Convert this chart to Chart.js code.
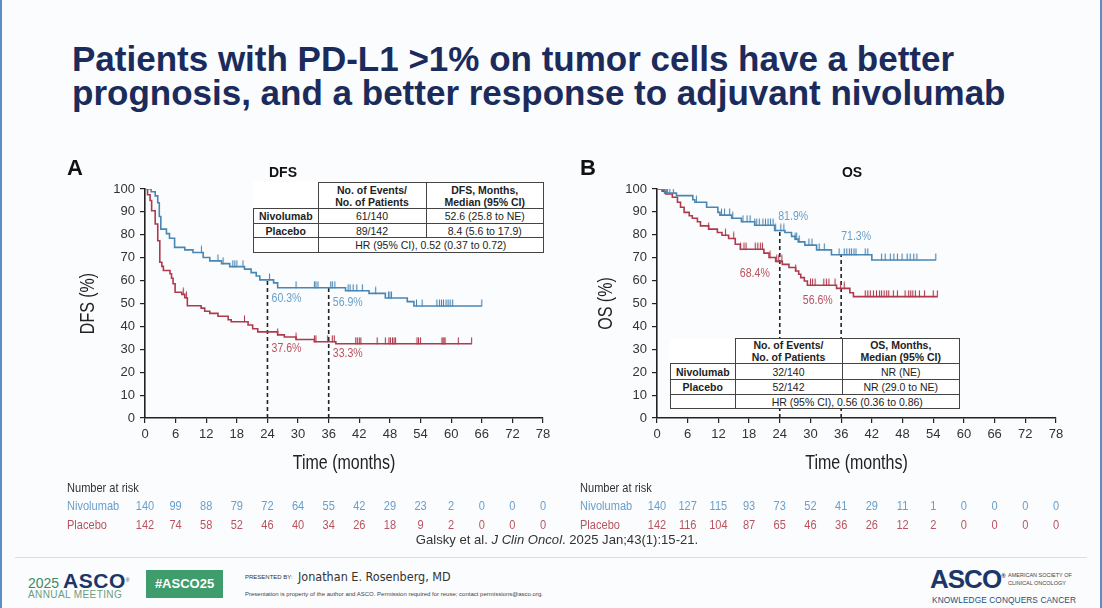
<!DOCTYPE html>
<html>
<head>
<meta charset="utf-8">
<script src="https://cdn.jsdelivr.net/npm/chart.js@4.4.1/dist/chart.umd.min.js"></script>
<style>
body { margin:0; width:1102px; height:608px; background:#fbfcfd; position:relative; overflow:hidden; font-family:"Liberation Sans", Arial, sans-serif; }
.edge { position:absolute; top:0; width:2px; height:608px; background:#5a8fc0; }
#title { position:absolute; left:72px; top:42px; font-weight:bold; font-size:35px; line-height:34px; color:#1a2b5c; white-space:nowrap; }
canvas { position:absolute; }
.km-table { position:absolute; border-collapse:collapse; background:#fff; font-size:10.5px; color:#222; }
.km-table td { border:1px solid #444; text-align:center; padding:0; line-height:12px; }
.km-table td.blank { border:none; background:transparent; }
.km-table td.hd { font-weight:bold; line-height:12px; }
.km-table td.rl { font-weight:bold; }
#cite { position:absolute; left:0; width:1114px; top:532px; text-align:center; font-size:13.5px; color:#333; transform:scaleX(0.97); transform-origin:557px 0; }
#footline { position:absolute; left:15px; width:1072px; top:557px; height:1px; background:#d9dee3; }
.ft { position:absolute; white-space:nowrap; }
</style>
</head>
<body>
<div class="edge" style="left:0"></div>
<div class="edge" style="left:1100px"></div>
<div id="title">Patients with PD-L1 &gt;1% on tumor cells have a better<br>prognosis, and a better response to adjuvant nivolumab</div>

<canvas id="dfs-chart" width="525" height="390" style="left:40px; top:150px;"></canvas>
<canvas id="os-chart" width="525" height="390" style="left:560px; top:150px;"></canvas>

<table class="km-table" style="left:253px; top:182px; width:291px;">
  <tr style="height:26px"><td class="blank" style="width:64px"></td><td class="hd" style="width:107px">No. of Events/<br>No. of Patients</td><td class="hd">DFS, Months,<br>Median (95% CI)</td></tr>
  <tr style="height:15px"><td class="rl">Nivolumab</td><td>61/140</td><td>52.6 (25.8 to NE)</td></tr>
  <tr style="height:14px"><td class="rl">Placebo</td><td>89/142</td><td>8.4 (5.6 to 17.9)</td></tr>
  <tr style="height:15px"><td></td><td colspan="2">HR (95% CI), 0.52 (0.37 to 0.72)</td></tr>
</table>

<table class="km-table" style="left:670px; top:338px; width:290px;">
  <tr style="height:25px"><td class="blank" style="width:64px"></td><td class="hd" style="width:106px">No. of Events/<br>No. of Patients</td><td class="hd">OS, Months,<br>Median (95% CI)</td></tr>
  <tr style="height:16px"><td class="rl">Nivolumab</td><td>32/140</td><td>NR (NE)</td></tr>
  <tr style="height:15px"><td class="rl">Placebo</td><td>52/142</td><td>NR (29.0 to NE)</td></tr>
  <tr style="height:14px"><td></td><td colspan="2">HR (95% CI), 0.56 (0.36 to 0.86)</td></tr>
</table>

<div id="cite">Galsky et al. <i>J Clin Oncol</i>. 2025 Jan;43(1):15-21.</div>
<div id="footline"></div>

<div class="ft" style="left:28px; top:569px; color:#3d8c63; font-size:14px;">2025 <span style="color:#1d3668; font-weight:bold; font-size:21px; letter-spacing:0.5px;">ASCO</span><sup style="font-size:5px; color:#1d3668;">®</sup></div>
<div class="ft" style="left:28px; top:589px; color:#6a9e80; font-size:10px; letter-spacing:0.4px;">ANNUAL MEETING</div>
<div class="ft" style="left:146px; top:570px; width:77px; height:28px; background:#3f9c6d; color:#fff; font-weight:bold; font-size:13px; line-height:28px; text-align:center;">#ASCO25</div>
<div class="ft" style="left:245px; top:574px; font-size:6px; color:#333;">PRESENTED BY:</div>
<div class="ft" style="left:298px; top:569px; font-size:12.5px; color:#333; font-family:'DejaVu Sans Condensed','Liberation Sans',sans-serif;">Jonathan E. Rosenberg, MD</div>
<div class="ft" style="left:245px; top:591px; font-size:6px; color:#444;">Presentation is property of the author and ASCO. Permission required for reuse; contact permissions@asco.org.</div>
<div class="ft" style="left:930px; top:564px; font-size:26px; font-weight:bold; color:#1d3668; letter-spacing:-1px;">ASCO<sup style="font-size:6px;">®</sup></div>
<div class="ft" style="left:1008px; top:571px; font-size:5.5px; line-height:8px; color:#444;">AMERICAN SOCIETY OF<br>CLINICAL ONCOLOGY</div>
<div class="ft" style="left:932px; top:595px; font-size:8.3px; color:#1d4f7a; letter-spacing:0.1px;">KNOWLEDGE CONQUERS CANCER</div>

<script>
// x axis months and number at risk
const riskTimes = [0, 6, 12, 18, 24, 30, 36, 42, 48, 54, 60, 66, 72, 78];
const dfsNivoRisk = [140, 99, 88, 79, 72, 64, 55, 42, 29, 23, 2, 0, 0, 0];
const dfsPlacRisk = [142, 74, 58, 52, 46, 40, 34, 26, 18, 9, 2, 0, 0, 0];
const osNivoRisk = [140, 127, 115, 93, 73, 52, 41, 29, 11, 1, 0, 0, 0, 0];
const osPlacRisk = [142, 116, 104, 87, 65, 46, 36, 26, 12, 2, 0, 0, 0, 0];

// landmark times and rates (%)
const landmarkTimes = [24, 36];
const dfsNivoLandmark = [60.3, 56.9];
const dfsPlacLandmark = [37.6, 33.3];
const osNivoLandmark = [81.9, 71.3];
const osPlacLandmark = [68.4, 56.6];

// DFS curves (time in months, survival %)
const dfsNivoT = [0, 1.2, 2.0, 2.5, 2.8, 3.1, 4.2, 4.8, 5.8, 7.8, 9.4, 11.4, 12.7, 15, 16.6, 19.5, 20.8, 21.8, 22.5, 25.2, 26, 39.3, 43.9, 47.1, 51.4, 52.7, 66];
const dfsNivoS = [100, 98.8, 97, 94, 88, 82.5, 80.5, 78.5, 74.5, 73.4, 72.3, 70.1, 68.6, 67.4, 66.1, 65, 63.5, 62, 60.3, 59, 56.9, 55.6, 54.4, 52.4, 50.8, 48.9, 48.9];
const dfsNivoCens = [11.05, 14.3, 15.3, 17.2, 17.6, 18.0, 19.2, 24.4, 29.6, 33.2, 33.5, 33.9, 36.4, 36.7, 37.2, 39.8, 40.2, 40.8, 41.5, 42.6, 45.2, 47.7, 48.0, 48.3, 53.2, 54.3, 57.2, 57.7, 58.1, 58.5, 59.0, 59.4, 59.8, 60.3, 66];

const dfsPlacT = [0, 0.5, 1.0, 1.3, 2.0, 2.5, 2.9, 3.3, 3.6, 4.9, 5.2, 5.5, 5.9, 7.2, 7.8, 8.3, 11, 11.7, 12.7, 14.3, 16.3, 16.9, 20.2, 21.1, 22.1, 26, 27.3, 29.6, 33.2, 37.4, 64];
const dfsPlacS = [100, 97.5, 95, 90.5, 84.7, 77.4, 68, 66.2, 64.4, 63, 61, 58.6, 54.9, 54, 52.5, 49, 48, 46.6, 45.7, 44.4, 42.9, 42, 40.6, 39, 37.6, 36.3, 35.4, 34.3, 33.3, 32.4, 32.4];
const dfsPlacCens = [7.5, 8.1, 19.5, 26.0, 29.6, 33.2, 33.5, 35.8, 36.7, 37.1, 41.3, 41.6, 42.0, 42.3, 45.5, 47.1, 47.8, 48.1, 48.5, 48.8, 49.1, 53.3, 53.6, 54.0, 58.2, 58.4, 58.6, 58.8, 61.4, 64.0];

// OS curves
const osNivoT = [0, 1.5, 3.8, 7.0, 7.4, 9.7, 11.9, 12.3, 14.6, 16.5, 19.1, 23.0, 25.0, 26.3, 27.0, 27.6, 28.9, 31.2, 34.1, 42.0, 54.5];
const osNivoS = [100, 98.2, 97.1, 95.3, 94.2, 92.0, 89.8, 88.6, 87.2, 85.7, 84.2, 81.9, 81.0, 79.3, 78.1, 76.9, 75.5, 73.4, 71.3, 69.0, 69.0];
const osNivoCens = [0.6, 1.2, 1.8, 2.5, 3.2, 7.7, 12.6, 13.2, 14.2, 14.8, 16.8, 17.6, 18.2, 19.1, 19.5, 20.0, 20.7, 21.2, 21.7, 22.2, 22.7, 23.2, 24.2, 24.8, 27.0, 27.3, 27.8, 29.7, 30.3, 31.7, 32.7, 35.6, 36.6, 37.1, 37.6, 38.0, 38.5, 38.9, 40.7, 41.2, 43.9, 44.6, 45.6, 46.3, 47.0, 47.9, 48.9, 49.5, 50.2, 50.8, 54.5];

const osPlacT = [0, 1.0, 1.7, 3.0, 4.0, 4.6, 5.3, 6.3, 6.9, 7.9, 8.5, 10.1, 11.8, 12.7, 14.0, 15.3, 16.3, 20.9, 21.9, 23.2, 24.5, 25.8, 27.1, 27.7, 28.1, 28.8, 29.4, 35.1, 37.7, 38.4, 54.8];
const osPlacS = [100, 99, 97.8, 96.4, 94.2, 92, 89.8, 88.3, 87.2, 85.7, 83.9, 82.5, 81.0, 79.8, 78.4, 75.9, 73.7, 72.0, 70.1, 68.4, 67.1, 65.7, 64.2, 62.8, 61.3, 59.8, 58.0, 56.6, 54.7, 53.0, 53.0];
const osPlacCens = [0.6, 1.3, 2.0, 10.1, 13.4, 15.0, 16.3, 17.0, 17.4, 19.2, 19.7, 20.2, 20.6, 22.1, 23.4, 23.8, 24.4, 27.1, 30.0, 30.4, 30.9, 32.6, 33.1, 33.6, 34.8, 35.9, 36.6, 40.7, 41.2, 41.7, 42.3, 42.9, 43.5, 43.9, 44.4, 44.9, 45.3, 46.2, 47.0, 48.5, 49.2, 49.6, 50.0, 50.5, 51.3, 52.3, 54.0, 54.8];

const BLUE = '#4a86b4';
const RED = '#ae3a4c';
const BLUE_TXT = '#6a9fca';
const RED_TXT = '#b9535f';
const ARIAL = '"Liberation Sans", Arial, sans-serif';

function toPoints(ts, ss) {
    return ts.map((t, i) => ({ x: t, y: ss[i] }));
}
// value of the step curve at time t
function stepValue(ts, ss, t) {
    let v = ss[0];
    for (let i = 0; i < ts.length; i++) if (ts[i] <= t) v = ss[i];
    return v;
}
function censorPoints(cens, ts, ss) {
    return cens.map(t => ({ x: t, y: stepValue(ts, ss, t) }));
}
function tickImage(color) {
    let c = document.createElement('canvas');
    c.width = 3; c.height = 14;
    let g = c.getContext('2d');
    g.strokeStyle = color;
    g.lineWidth = 1.1;
    g.beginPath(); g.moveTo(1.5, 0.5); g.lineTo(1.5, 7.5); g.stroke();
    return c;
}
// condensed-looking text: squeeze horizontally
function narrowText(ctx, text, x, y, sx, rot) {
    ctx.save();
    ctx.translate(x, y);
    if (rot) ctx.rotate(rot);
    ctx.scale(sx, 1);
    ctx.fillText(text, 0, 0);
    ctx.restore();
}

const kmExtras = {
    id: 'kmExtras',
    afterDraw(chart, args, o) {
        const ctx = chart.ctx, xs = chart.scales.x, ys = chart.scales.y, area = chart.chartArea;
        ctx.save();
        ctx.fillStyle = '#111';
        ctx.font = 'bold 22px ' + ARIAL;
        ctx.textAlign = 'left'; ctx.textBaseline = 'alphabetic';
        ctx.fillText(o.letter, o.letterX, 25);
        ctx.font = 'bold 14px ' + ARIAL;
        ctx.textAlign = 'center';
        ctx.fillText(o.title, o.titleX, 27);
        // axis titles
        ctx.fillStyle = '#222';
        ctx.font = '20px ' + ARIAL;
        ctx.textBaseline = 'middle';
        narrowText(ctx, 'Time (months)', (area.left + area.right) / 2, 313, 0.8);
        narrowText(ctx, o.yTitle, o.yTitleX, (area.top + area.bottom) / 2, 0.8, -Math.PI / 2);
        // landmark labels
        ctx.font = '12px ' + ARIAL;
        ctx.textAlign = 'left';
        o.labels.forEach(l => {
            ctx.fillStyle = l.color;
            narrowText(ctx, l.text, xs.getPixelForValue(l.x), ys.getPixelForValue(l.y), 0.88);
        });
        // number at risk
        ctx.font = '13px ' + ARIAL;
        ctx.fillStyle = '#333';
        narrowText(ctx, 'Number at risk', o.riskX, 338, 0.85);
        ctx.fillStyle = BLUE_TXT;
        narrowText(ctx, 'Nivolumab', o.riskX, 356, 0.85);
        ctx.fillStyle = RED_TXT;
        narrowText(ctx, 'Placebo', o.riskX, 375, 0.85);
        ctx.textAlign = 'center';
        riskTimes.forEach((t, i) => {
            const px = xs.getPixelForValue(t);
            ctx.fillStyle = BLUE_TXT;
            narrowText(ctx, String(o.nivoRisk[i]), px, 356, 0.85);
            ctx.fillStyle = RED_TXT;
            narrowText(ctx, String(o.placRisk[i]), px, 375, 0.85);
        });
        ctx.restore();
    }
};

function make_panel(id, p) {
    const dash = landmarkTimes.map((t, i) => ({
        type: 'line',
        data: [{ x: t, y: 0 }, { x: t, y: p.nivoLm[i] }],
        borderColor: '#222', borderWidth: 1.6, borderDash: [4, 3],
        pointRadius: 0, order: 5,
    }));
    const labels = [];
    landmarkTimes.forEach((t, i) => {
        labels.push({ text: p.nivoLm[i].toFixed(1) + '%', x: p.nivoPos[i][0], y: p.nivoPos[i][1], color: BLUE_TXT });
        labels.push({ text: p.placLm[i].toFixed(1) + '%', x: p.placPos[i][0], y: p.placPos[i][1], color: RED_TXT });
    });
    new Chart(document.getElementById(id), {
        type: 'line',
        data: {
            datasets: [
                ...dash,
                { data: toPoints(p.placT, p.placS), stepped: true, borderColor: RED, borderWidth: 1.6, pointRadius: 0, order: 2 },
                { data: toPoints(p.nivoT, p.nivoS), stepped: true, borderColor: BLUE, borderWidth: 1.6, pointRadius: 0, order: 1 },
                { data: censorPoints(p.placC, p.placT, p.placS), showLine: false, pointStyle: tickImage(RED), pointRadius: 4, order: 2 },
                { data: censorPoints(p.nivoC, p.nivoT, p.nivoS), showLine: false, pointStyle: tickImage(BLUE), pointRadius: 4, order: 1 },
            ],
        },
        options: {
            responsive: false,
            animation: false,
            layout: { padding: { left: p.padLeft, top: 39, right: p.padRight, bottom: 63 } },
            scales: {
                x: {
                    type: 'linear', min: 0, max: 78,
                    ticks: { stepSize: 6, autoSkip: false, maxRotation: 0, padding: 4, color: '#333', font: { size: 13, family: ARIAL } },
                    grid: { drawOnChartArea: false, color: '#222', tickLength: 5, lineWidth: 1.2 },
                    border: { color: '#222', width: 1.6 },
                    afterFit: s => { s.height = 59; },
                },
                y: {
                    min: 0, max: 100,
                    ticks: { stepSize: 10, padding: 5, color: '#333', font: { size: 13, family: ARIAL } },
                    grid: { drawOnChartArea: false, color: '#222', tickLength: 5, lineWidth: 1.2 },
                    border: { color: '#222', width: 1.6 },
                    afterFit: s => { s.width = p.yWidth; },
                },
            },
            plugins: {
                legend: { display: false },
                tooltip: { enabled: false },
                kmExtras: {
                    letter: p.letter, letterX: p.letterX, title: p.title, titleX: p.titleX,
                    yTitle: p.yTitle, yTitleX: p.yTitleX,
                    riskX: p.riskX, nivoRisk: p.nivoRisk, placRisk: p.placRisk, labels: labels,
                },
            },
        },
        plugins: [kmExtras],
    });
}

make_panel('dfs-chart', {
    letter: 'A', letterX: 27, title: 'DFS', titleX: 243, yTitle: 'DFS (%)', yTitleX: 48,
    padLeft: 34, yWidth: 71, padRight: 22, riskX: 27,
    nivoT: dfsNivoT, nivoS: dfsNivoS, nivoC: dfsNivoCens,
    placT: dfsPlacT, placS: dfsPlacS, placC: dfsPlacCens,
    nivoRisk: dfsNivoRisk, placRisk: dfsPlacRisk,
    nivoLm: dfsNivoLandmark, placLm: dfsPlacLandmark,
    nivoPos: [[24.8, 52.0], [36.8, 50.2]], placPos: [[24.8, 30.1], [36.8, 27.9]],
});
make_panel('os-chart', {
    letter: 'B', letterX: 20, title: 'OS', titleX: 292, yTitle: 'OS (%)', yTitleX: 46,
    padLeft: 33, yWidth: 64, padRight: 29, riskX: 20,
    nivoT: osNivoT, nivoS: osNivoS, nivoC: osNivoCens,
    placT: osPlacT, placS: osPlacS, placC: osPlacCens,
    nivoRisk: osNivoRisk, placRisk: osPlacRisk,
    nivoLm: osNivoLandmark, placLm: osPlacLandmark,
    nivoPos: [[23.7, 87.8], [36.0, 79.0]], placPos: [[16.2, 62.9], [28.5, 51.1]],
});
</script>
</body>
</html>
